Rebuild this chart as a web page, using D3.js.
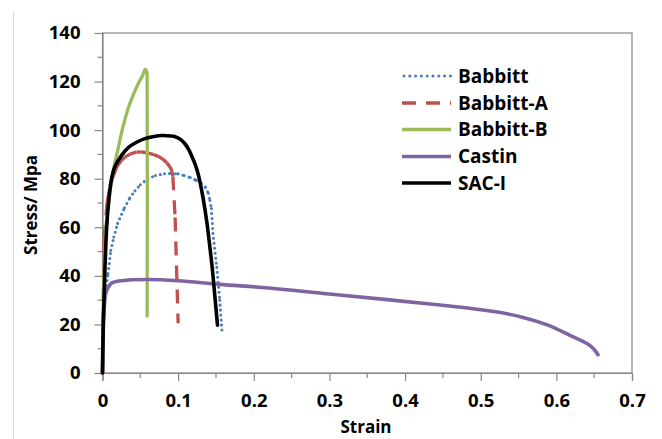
<!DOCTYPE html>
<html>
<head>
<meta charset="utf-8">
<script src="https://cdn.jsdelivr.net/npm/d3@7"></script>
<style>
  body { margin: 0; background: #fff; }
  svg { display: block; font-family: "Open Sans", sans-serif; font-weight: bold; }
</style>
</head>
<body>
<svg id="chart" width="662" height="439"></svg>
<script>
// strain / stress pairs
var babbitt = [[0,0],[0.001,15],[0.003,30],[0.005,36],[0.0073,41],[0.011,50.5],[0.015,56],[0.02,61.6],
  [0.029,68],[0.036,72],[0.043,75],[0.05,77.5],[0.06,80],[0.07,81.3],[0.082,82],[0.09,82.2],[0.1,82],
  [0.108,81.3],[0.116,80.5],[0.124,79.3],[0.131,78],[0.136,76.5],[0.14,74],[0.142,71],[0.144,67.7],
  [0.146,57.5],[0.151,43.5],[0.155,30],[0.158,17]];
var babbittA = [[0,0],[0.002,55],[0.006,70],[0.01,77],[0.013,80],[0.019,85],[0.025,87.5],[0.03,89],
  [0.037,90.2],[0.045,91],[0.052,91],[0.06,90.6],[0.067,90],[0.074,89.2],[0.08,88],[0.085,86.5],
  [0.089,85],[0.092,83],[0.093,81],[0.096,64],[0.1,20.5]];
var babbittB = [[0,0],[0.001,25],[0.002,40],[0.0046,60],[0.008,70],[0.012,79],[0.016,86],[0.02,91.5],
  [0.026,100],[0.034,109],[0.04,114],[0.047,119],[0.053,122.5],[0.0565,125],[0.0585,124],[0.059,120],[0.059,23.5]];
var castin = [[0,0],[0.001,20],[0.002,26],[0.003,30],[0.0045,33],[0.008,35.5],[0.012,37],[0.025,38],
  [0.06,38.5],[0.1,38],[0.155,36.5],[0.22,35],[0.3,32.5],[0.376,30.2],[0.433,28.4],[0.48,26.9],
  [0.52,25.2],[0.555,23],[0.588,19.8],[0.618,15.5],[0.641,12],[0.65,9.7],[0.655,7.5]];
var sacI = [[0,0],[0.001,19],[0.002,30],[0.0033,43.5],[0.0055,60],[0.0083,71],[0.012,80],[0.0165,85],
  [0.025,89.5],[0.034,92.8],[0.045,95],[0.056,96.5],[0.068,97.4],[0.079,97.8],[0.09,97.6],[0.096,97.3],
  [0.103,96.2],[0.109,94.4],[0.114,92],[0.118,89.3],[0.122,86.3],[0.126,82.5],[0.129,78.5],[0.133,72],
  [0.138,62],[0.14,57],[0.145,43.5],[0.149,30],[0.152,19.7]];

var seriesNames = ['Babbitt', 'Babbitt-A', 'Babbitt-B', 'Castin', 'SAC-I'];
var xTicks = [0, 0.1, 0.2, 0.3, 0.4, 0.5, 0.6, 0.7];
var yTicks = [0, 20, 40, 60, 80, 100, 120, 140];

var series = [
  {name: seriesNames[0], data: babbitt, color: '#4a7ebb', width: 3.1, dash: '0,5', dotted: true, perSegment: true},
  {name: seriesNames[1], data: babbittA, color: '#c0504d', width: 3.3, dash: '14,10', perSegment: true},
  {name: seriesNames[2], data: babbittB, color: '#9bbb59', width: 3.3, dash: null},
  {name: seriesNames[3], data: castin, color: '#8064a2', width: 3.6, dash: null},
  {name: seriesNames[4], data: sacI, color: '#000000', width: 3.6, dash: null}
];

var svg = d3.select('#chart');
var pad = {left: 102.5, right: 632, top: 33, bottom: 373};

svg.append('rect').attr('width', 662).attr('height', 439).attr('fill', '#fff');
// outer chart border (only the left edge is in view)
svg.append('line').attr('x1', 13.5).attr('x2', 13.5).attr('y1', 12).attr('y2', 439)
  .attr('stroke', '#d9d9d9').attr('stroke-width', 1);

var x = d3.scaleLinear().domain([0, 0.7]).range([pad.left, pad.right]);
var y = d3.scaleLinear().domain([0, 140]).range([pad.bottom, pad.top]);

// plot frame
svg.append('rect')
  .attr('x', pad.left).attr('y', pad.top)
  .attr('width', pad.right - pad.left).attr('height', pad.bottom - pad.top)
  .attr('fill', 'none').attr('stroke', '#868686').attr('stroke-width', 1.2);

// minor ticks
var minorY = d3.range(10, 140, 20);
var minorX = d3.range(0.05, 0.7, 0.1);
svg.append('g').selectAll('line').data(minorY).enter().append('line')
  .attr('x1', pad.left - 5).attr('x2', pad.left)
  .attr('y1', function (d) { return y(d); }).attr('y2', function (d) { return y(d); })
  .attr('stroke', '#868686').attr('stroke-width', 1.2);
svg.append('g').selectAll('line').data(minorX).enter().append('line')
  .attr('y1', pad.bottom).attr('y2', pad.bottom + 5)
  .attr('x1', function (d) { return x(d); }).attr('x2', function (d) { return x(d); })
  .attr('stroke', '#868686').attr('stroke-width', 1.2);

var yAxis = svg.append('g').attr('transform', 'translate(' + pad.left + ',0)')
  .call(d3.axisLeft(y).tickValues(yTicks).tickSize(8).tickPadding(14));
var xAxis = svg.append('g').attr('transform', 'translate(0,' + pad.bottom + ')')
  .call(d3.axisBottom(x).tickValues(xTicks).tickSize(8).tickPadding(13)
    .tickFormat(function (d) { return d === 0 ? '0' : d3.format('.1f')(d); }));
[xAxis, yAxis].forEach(function (g) {
  g.select('.domain').attr('stroke', '#868686').attr('stroke-width', 1.2);
  g.selectAll('.tick line').attr('stroke', '#868686').attr('stroke-width', 1.2);
  g.selectAll('.tick text').attr('fill', '#000').style('font-size', '18.5px')
    .style('font-family', '"Open Sans", sans-serif').style('font-weight', 'bold');
});

svg.append('text').attr('x', 366).attr('y', 433).attr('text-anchor', 'middle')
  .style('font-size', '17px').text('Strain');
svg.append('text').attr('transform', 'translate(37,205) rotate(-90)').attr('text-anchor', 'middle')
  .style('font-size', '17px').text('Stress/ Mpa');

var line = d3.line()
  .x(function (d) { return x(d[0]); })
  .y(function (d) { return y(d[1]); });
var smooth = d3.line()
  .x(function (d) { return x(d[0]); })
  .y(function (d) { return y(d[1]); })
  .curve(d3.curveCatmullRom.alpha(0.5));

var plotG = svg.append('g');
series.forEach(function (s) {
  var g = plotG.append('g');
  if (s.perSegment) {
    // dash pattern restarts on each segment
    var segs = d3.pairs(s.data);
    g.selectAll('path').data(segs).enter().append('path')
      .attr('d', function (d) { return line(d); })
      .attr('fill', 'none').attr('stroke', s.color).attr('stroke-width', s.width)
      .attr('stroke-dasharray', s.dash)
      .attr('stroke-linecap', s.dotted ? 'round' : 'butt');
  } else {
    g.append('path').attr('d', smooth(s.data))
      .attr('fill', 'none').attr('stroke', s.color).attr('stroke-width', s.width)
      .attr('stroke-linejoin', 'round').attr('stroke-linecap', 'round');
  }
});

// legend
var legendRows = [76, 103, 129.5, 156.5, 183];
var legend = svg.append('g').selectAll('g').data(series).enter().append('g')
  .attr('transform', function (d, i) { return 'translate(0,' + legendRows[i] + ')'; });
legend.append('line').attr('x1', function (d) { return d.dotted ? 404 : 402; }).attr('x2', 451)
  .attr('stroke', function (d) { return d.color; })
  .attr('stroke-width', function (d) { return d.width; })
  .attr('stroke-dasharray', function (d) { return d.dotted ? '0,5.8' : d.dash; })
  .attr('stroke-linecap', function (d) { return d.dotted ? 'round' : 'butt'; });
legend.append('text').attr('x', 458).attr('y', 0).attr('dy', '0.35em')
  .style('font-size', '19px').text(function (d) { return d.name; });
</script>
</body>
</html>
